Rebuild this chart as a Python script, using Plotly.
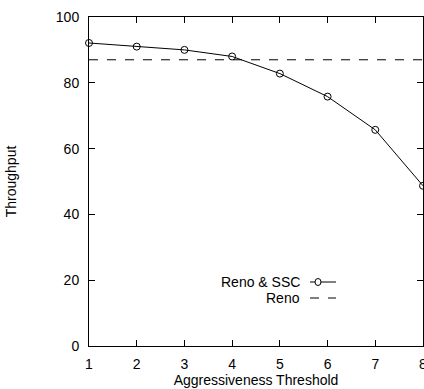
import plotly.graph_objects as go

threshold = [1, 2, 3, 4, 5, 6, 7, 8]
reno_ssc = [92.1, 91.0, 90.0, 88.0, 82.8, 75.8, 65.7, 48.7]
reno = [87.0] * len(threshold)
x_ticks = [1, 2, 3, 4, 5, 6, 7, 8]
y_ticks = [0, 20, 40, 60, 80, 100]

font = "Liberation Sans, Arial, sans-serif"

fig = go.Figure()
fig.add_trace(go.Scatter(x=threshold, y=reno, mode="lines", name="Reno",
                         line=dict(color="black", width=1, dash="dash"),
                         showlegend=False, cliponaxis=False))
fig.add_trace(go.Scatter(x=threshold, y=reno_ssc, mode="lines+markers", name="Reno & SSC",
                         line=dict(color="black", width=1),
                         marker=dict(symbol="circle-open", size=7, color="black", line=dict(width=1)),
                         showlegend=False, cliponaxis=False))

# legend drawn manually (text left of sample, like the original)
W, H = 424 - 89 - 1, 389 - 17 - 43
leg = [("Reno & SSC", "solid", True), ("Reno", "dash", False)]
lx0, lx1 = (310 - 89) / W, (336 - 89) / W
ly = [(346 - 282) / H, (346 - 298) / H]
for i, (name, dash, mk) in enumerate(leg):
    fig.add_annotation(x=lx0 - 8 / W, y=ly[i], xref="paper", yref="paper", text=name,
                       showarrow=False, xanchor="right", yanchor="middle",
                       font=dict(family=font, size=14, color="black"))
    fig.add_shape(type="line", xref="paper", yref="paper", x0=lx0, x1=lx1, y0=ly[i], y1=ly[i],
                  line=dict(color="black", width=1, dash=dash))
    if mk:
        cx = (318 - 89) / W
        fig.add_shape(type="circle", xref="paper", yref="paper",
                      x0=cx - 3 / W, x1=cx + 3 / W, y0=ly[i] - 3.5 / H, y1=ly[i] + 3.5 / H,
                      line=dict(color="black", width=1), fillcolor="white")

fig.update_layout(
    width=424, height=389,
    margin=dict(l=89, r=1, t=17, b=43),
    paper_bgcolor="white", plot_bgcolor="white",
    font=dict(family=font, size=14, color="black"),
    xaxis=dict(range=[1, 8.0001], tickvals=x_ticks, ticks="inside", ticklen=6, tickcolor="black",
               showline=True, linecolor="black", linewidth=1, mirror="ticks", showgrid=False,
               zeroline=False, tickfont=dict(size=14), automargin=False, ticklabelstandoff=5,
               ticklabeloverflow="allow",
               title=dict(text="Aggressiveness Threshold", font=dict(size=14), standoff=4)),
    yaxis=dict(range=[0, 100], tickvals=y_ticks, ticks="inside", ticklen=6, tickcolor="black",
               showline=True, linecolor="black", linewidth=1, mirror="ticks", showgrid=False,
               zeroline=False, tickfont=dict(size=14), ticklabelstandoff=6, automargin=False,
               title=dict(text="Throughput", font=dict(size=14), standoff=35)),
)

fig.write_html("out.html", config={"displayModeBar": False},
               post_script="document.body.style.margin='0';document.body.style.padding='0';")
